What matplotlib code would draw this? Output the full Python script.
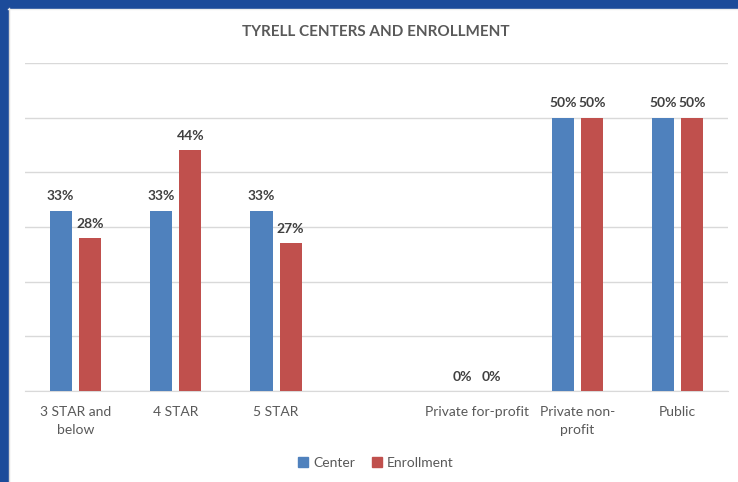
import numpy as np
import matplotlib.pyplot as plt
from matplotlib.patches import Rectangle

plt.rcParams['font.family'] = ['Lato', 'DejaVu Sans']

categories = ['3 STAR and\nbelow', '4 STAR', '5 STAR', '', 'Private for-profit', 'Private non-\nprofit', 'Public']
center = [33, 33, 33, np.nan, 0, 50, 50]
enrollment = [28, 44, 27, np.nan, 0, 50, 50]
series_names = ['Center', 'Enrollment']
colors = ['#4F81BD', '#C0504D']

W, H = 738, 482
fig = plt.figure(figsize=(W / 100, H / 100), dpi=100)
ax = fig.add_axes([25 / W, 91 / H, 703 / W, 328 / H])

x = np.arange(len(categories))
bw = 0.22
off = 0.145
for vals, dx, c in [(center, -off, colors[0]), (enrollment, off, colors[1])]:
    ax.bar(x + dx, vals, width=bw, color=c, zorder=3)
    for xi, v in zip(x, vals):
        if np.isnan(v):
            continue
        ax.text(xi + dx, v + 1.5, f'{v:.0f}%', ha='center', va='bottom',
                fontsize=10, fontweight='bold', color='#404040')

ax.set_xlim(-0.5, len(categories) - 0.5)
ax.set_ylim(0, 60)
ax.set_yticks(np.arange(0, 61, 10))
ax.yaxis.grid(True, color='#D9D9D9', linewidth=1, zorder=0)
ax.tick_params(axis='y', left=False, labelleft=False)
ax.tick_params(axis='x', length=0, pad=11, labelsize=10, labelcolor='#595959')
ax.set_xticks(x)
ax.set_xticklabels(categories, linespacing=1.6)
for s in ['top', 'right', 'left']:
    ax.spines[s].set_visible(False)
ax.spines['bottom'].set_color('#D9D9D9')

fig.text(376 / W, 1 - 32 / H, 'TYRELL CENTERS AND ENROLLMENT', ha='center', va='center',
         fontsize=11, fontweight='bold', color='#595959')

handles = [Rectangle((0, 0), 1, 1, color=c) for c in colors]
fig.legend(handles, series_names, loc='center', bbox_to_anchor=(376 / W, 1 - 463 / H),
           ncol=2, frameon=False, fontsize=10, labelcolor='#595959',
           handlelength=0.7, handleheight=0.7, handletextpad=0.4, columnspacing=1.2)

# blue frame on left and top, thin grey edge inside it
fig.patches.append(Rectangle((0, 0), 8 / W, 1, transform=fig.transFigure, color='#1C4B9A'))
fig.patches.append(Rectangle((0, 1 - 8 / H), 1, 8 / H, transform=fig.transFigure, color='#1C4B9A'))
fig.add_artist(plt.Line2D([8.5 / W, 8.5 / W], [0, 1 - 8 / H], transform=fig.transFigure,
                          color='#D9D9D9', linewidth=1))
fig.add_artist(plt.Line2D([8 / W, 1], [1 - 9 / H, 1 - 9 / H], transform=fig.transFigure,
                          color='#EDEDED', linewidth=1))

fig.savefig('out.png', dpi=100)
